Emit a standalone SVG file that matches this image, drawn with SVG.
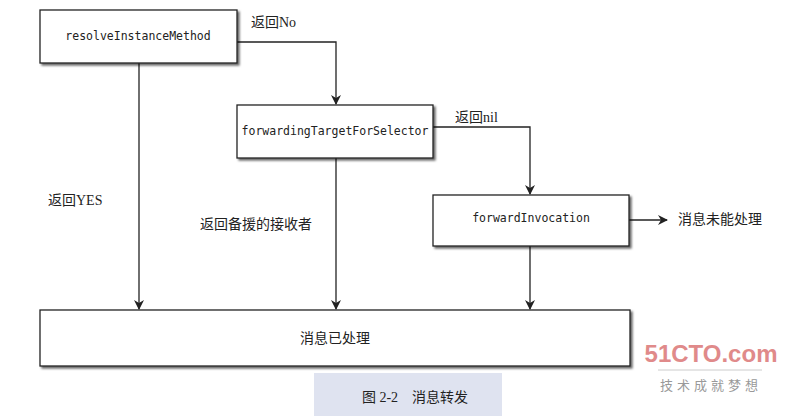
<svg xmlns="http://www.w3.org/2000/svg" width="799" height="416" viewBox="0 0 799 416">
<defs>
<marker id="ah" markerWidth="10" markerHeight="12" refX="9" refY="5" orient="auto" markerUnits="userSpaceOnUse"><path d="M0,0 L10,5 L0,10 L3,5 Z" fill="#222"/></marker>
<filter id="sh" x="-5%" y="-10%" width="115%" height="130%"><feDropShadow dx="2" dy="2" stdDeviation="1.2" flood-color="#000" flood-opacity="0.6"/></filter>
</defs>
<style>
.box{fill:#fff;stroke:#222;stroke-width:1.3;filter:url(#sh)}
.mono{font-family:"DejaVu Sans Mono","Liberation Mono",monospace;font-size:11.5px;fill:#222}
.cn{font-family:"Liberation Serif","Noto Sans CJK SC",serif;font-size:14px;fill:#222}
.ln{fill:none;stroke:#222;stroke-width:1.3;marker-end:url(#ah)}
</style>
<rect width="799" height="416" fill="#fff"/>
<rect x="314" y="373" width="188" height="43" fill="#dfe3f0"/>
<g id="connectors">
<path class="ln" d="M237,42 H336 V104"/>
<path class="ln" d="M433,127 H530 V194"/>
<path class="ln" d="M629,220 H667"/>
<path class="ln" d="M139,63 V309"/>
<path class="ln" d="M336,158 V309"/>
<path class="ln" d="M530,246 V309"/>
</g>
<g id="resolve"><rect class="box" x="40" y="10" width="197" height="53"/><text class="mono" x="138" y="40" text-anchor="middle">resolveInstanceMethod</text></g>
<g id="forwardingTarget"><rect class="box" x="237" y="105" width="196" height="53"/><text class="mono" x="335" y="135" text-anchor="middle">forwardingTargetForSelector</text></g>
<g id="forwardInvocation"><rect class="box" x="433" y="195" width="196" height="51"/><text class="mono" x="531" y="222" text-anchor="middle">forwardInvocation</text></g>
<g id="handled"><rect class="box" x="40" y="310" width="590" height="56"/><text class="cn" x="335" y="343" text-anchor="middle">消息已处理</text></g>
<g id="unhandled"><text class="cn" x="678" y="224">消息未能处理</text></g>
<g id="labels">
<text class="cn" x="251" y="27">返回No</text>
<text class="cn" x="455" y="122">返回nil</text>
<text class="cn" x="48" y="205">返回YES</text>
<text class="cn" x="200" y="229">返回备援的接收者</text>
<text class="cn" x="415" y="402" text-anchor="middle">图 2-2　消息转发</text>
</g>
<text x="711" y="362" text-anchor="middle" font-family="Liberation Sans,sans-serif" font-weight="bold" font-size="24" fill="#e08a8a">51CTO.com</text>
<line x1="658" y1="370" x2="762" y2="370" stroke="#ccc"/>
<text x="711" y="390" text-anchor="middle" font-family="Noto Sans CJK SC,sans-serif" font-size="13" letter-spacing="4" fill="#999">技术成就梦想</text>
</svg>
